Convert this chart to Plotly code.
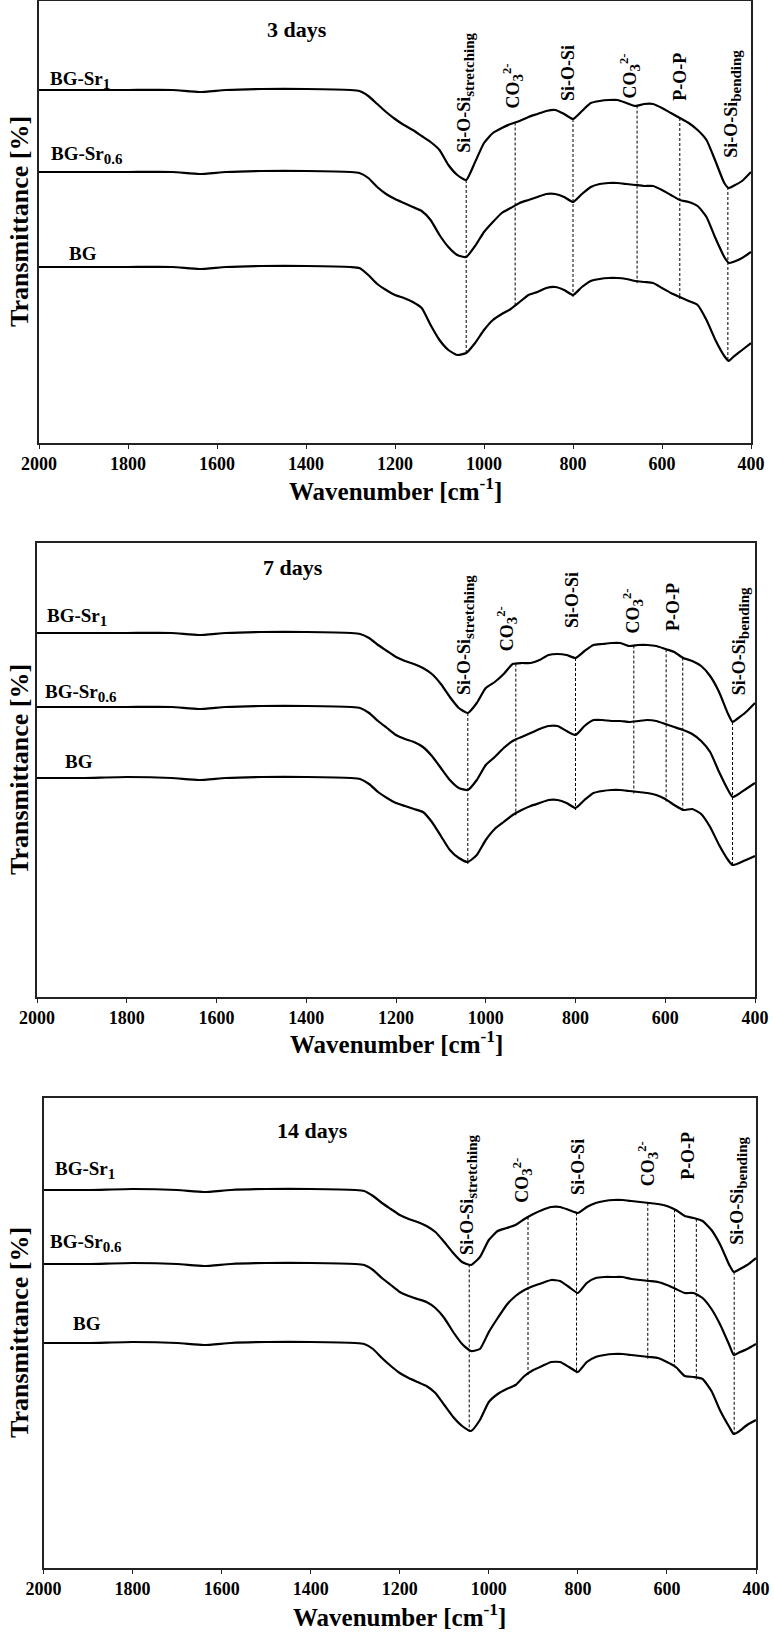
import numpy as np
import plotly.graph_objects as go

# wavenumber grid (cm-1), shared by all spectra
WN = [2000, 1900, 1800, 1700, 1640, 1580, 1500, 1400, 1300, 1280, 1260, 1240, 1220,
      1200, 1180, 1160, 1140, 1120, 1100, 1080, 1060, 1040, 1020, 1000, 980, 960,
      940, 920, 900, 880, 860, 840, 820, 800, 780, 760, 740, 720, 700, 680, 660,
      640, 620, 600, 580, 560, 540, 520, 500, 480, 460, 450, 440, 420, 400]

# transmittance (a.u., stacked) -- 3 days
D3_SR1 = [353, 353, 353, 353, 351, 353, 354, 354, 353, 352, 347, 339, 331, 324, 318,
          313, 307, 301, 293, 278, 268, 263, 281, 300, 310, 315, 319, 322, 326, 329,
          332, 333, 329, 324, 332, 340, 342, 343, 343, 340, 337, 339, 339, 335, 330,
          325, 320, 313, 303, 282, 260, 255, 257, 262, 271]
D3_SR06 = [271, 271, 271, 271, 269, 271, 272, 272, 271, 270, 265, 256, 249, 244, 240,
           236, 232, 223, 208, 196, 188, 186, 197, 211, 221, 230, 235, 240, 243, 246,
           249, 249, 246, 241, 249, 256, 259, 260, 260, 259, 258, 257, 257, 253, 248,
           243, 241, 237, 226, 205, 186, 180, 181, 185, 191]
D3_BG = [176, 176, 176, 176, 174, 176, 177, 177, 176, 175, 168, 159, 153, 148, 145,
         141, 135, 118, 103, 93, 88, 90, 100, 113, 123, 129, 134, 141, 148, 151,
         155, 156, 153, 148, 156, 162, 164, 165, 165, 164, 162, 161, 160, 155, 150,
         146, 142, 138, 123, 103, 87, 82, 86, 93, 100]

# 7 days
D7_SR1 = [364, 364, 364, 364, 362, 364, 365, 365, 364, 363, 359, 352, 346, 340, 336,
          333, 329, 323, 313, 300, 289, 284, 294, 309, 315, 323, 333, 334, 334, 337,
          342, 343, 342, 339, 346, 352, 353, 354, 354, 351, 352, 352, 351, 348, 345,
          339, 336, 331, 321, 305, 283, 275, 278, 285, 294]
D7_SR06 = [290, 290, 290, 290, 288, 290, 291, 291, 290, 289, 284, 276, 269, 262, 258,
           255, 250, 241, 229, 217, 209, 207, 217, 232, 240, 249, 256, 260, 264, 268,
           271, 271, 266, 262, 271, 277, 277, 276, 276, 275, 276, 277, 276, 273, 270,
           267, 263, 256, 245, 225, 207, 200, 202, 208, 214]
D7_BG = [219, 219, 220, 219, 217, 219, 220, 220, 219, 218, 213, 205, 199, 194, 191,
         188, 185, 175, 161, 147, 139, 135, 142, 157, 168, 175, 182, 187, 191, 194,
         197, 197, 194, 189, 197, 204, 206, 207, 207, 206, 205, 204, 202, 198, 192,
         187, 188, 183, 170, 152, 137, 132, 133, 137, 141]

# 14 days
D14_SR1 = [378, 378, 379, 378, 376, 378, 379, 379, 378, 377, 372, 365, 359, 353, 349,
           346, 342, 336, 326, 315, 306, 303, 311, 328, 337, 340, 343, 349, 354, 358,
           361, 361, 358, 355, 361, 365, 367, 368, 368, 367, 366, 365, 364, 362, 358,
           352, 350, 347, 338, 323, 303, 296, 298, 303, 310]
D14_SR06 = [304, 304, 305, 304, 302, 304, 305, 305, 304, 303, 298, 290, 283, 276, 272,
            269, 266, 260, 250, 236, 224, 217, 219, 236, 250, 263, 272, 278, 282, 285,
            288, 287, 281, 275, 285, 290, 291, 291, 291, 289, 288, 287, 286, 283, 279,
            275, 275, 270, 259, 243, 223, 213, 215, 219, 224]
D14_BG = [225, 225, 226, 225, 223, 225, 226, 226, 225, 224, 219, 210, 202, 195, 190,
          186, 182, 175, 163, 151, 142, 137, 148, 166, 174, 179, 183, 192, 198, 202,
          206, 206, 201, 196, 206, 211, 213, 214, 214, 213, 212, 211, 210, 206, 201,
          192, 191, 189, 177, 157, 141, 134, 136, 143, 148]

# subscripts in the source are nearly full size, so bump them up
SUB = "<sub><span style='font-size:15px'>{}</span></sub>"

SAMPLES = ["BG-Sr" + SUB.format("1"), "BG-Sr" + SUB.format("0.6"), "BG"]
TITLES = ["3 days", "7 days", "14 days"]
XTICKS = [2000, 1800, 1600, 1400, 1200, 1000, 800, 600, 400]

# band positions (cm-1) marked by dashed lines
D3_BANDS = [1040, 930, 800, 656, 560, 452]
D7_BANDS = [1040, 933, 800, 670, 598, 561, 450]
D14_BANDS = [1044, 912, 803, 643, 583, 534, 449]

STRETCH = "Si-O-Si" + SUB.format("stretching")
CO3 = "CO" + SUB.format("3") + "<sup>2-</sup>"
BEND = "Si-O-Si" + SUB.format("bending")
BAND_TEXT = [STRETCH, CO3, "Si-O-Si", CO3, "P-O-P", BEND]

# label anchor (wavenumber, transmittance) per panel
D3_LABEL_X = [1043, 935, 811, 672, 560, 443]
D3_LABEL_Y = [288, 333, 340, 343, 340, 283]
D7_LABEL_X = [1046, 953, 808, 672, 583, 433]
D7_LABEL_Y = [300, 344, 367, 362, 364, 300]
D14_LABEL_X = [1047, 925, 800, 643, 553, 441]
D14_LABEL_Y = [311, 363, 371, 380, 386, 321]

W, H = 774, 1632
FONT = "Liberation Serif"

panels = [
    dict(curves=[D3_SR1, D3_SR06, D3_BG], bands=D3_BANDS,
         lx=D3_LABEL_X, ly=D3_LABEL_Y, box=(39, 751, 1, 443), yr=442, xt=46,
         names=[(1980, 363), (1978, 288), (1937, 190)], title=(1420, 413)),
    dict(curves=[D7_SR1, D7_SR06, D7_BG], bands=D7_BANDS,
         lx=D7_LABEL_X, ly=D7_LABEL_Y, box=(37, 755, 543, 997), yr=454, xt=45,
         names=[(1982, 380), (1987, 304), (1942, 236)], title=(1430, 430)),
    dict(curves=[D14_SR1, D14_SR06, D14_BG], bands=D14_BANDS,
         lx=D14_LABEL_X, ly=D14_LABEL_Y, box=(43.5, 756, 1098, 1568), yr=470, xt=47,
         names=[(1979, 398), (1990, 325), (1938, 245)], title=(1395, 438)),
]

fig = go.Figure()
wn_up = np.array(WN[::-1], dtype=float)
annotations = []

for i, p in enumerate(panels):
    n = "" if i == 0 else str(i + 1)
    xa, ya = "x" + n, "y" + n
    top_c, bot_c = p["curves"][0], p["curves"][-1]

    # dashed band markers, from top spectrum down to the bottom one
    for b in p["bands"]:
        y0 = np.interp(b, wn_up, np.array(top_c[::-1], dtype=float))
        y1 = np.interp(b, wn_up, np.array(bot_c[::-1], dtype=float))
        fig.add_trace(go.Scatter(
            x=[b, b], y=[y0, y1 - 2], mode="lines", xaxis=xa, yaxis=ya,
            line=dict(color="black", width=1, dash="3px,2px"),
            showlegend=False, hoverinfo="skip"
        ))

    for c in p["curves"]:
        fig.add_trace(go.Scatter(
            x=WN, y=c, mode="lines", xaxis=xa, yaxis=ya,
            line=dict(color="black", width=2.2, shape="spline", smoothing=0.5),
            showlegend=False
        ))

    for (sx, sy), s in zip(p["names"], SAMPLES):
        annotations.append(dict(
            x=sx, y=sy, xref=xa, yref=ya, text=s, showarrow=False,
            xanchor="left", yanchor="middle",
            font=dict(family=FONT, size=19, color="black", weight="bold")
        ))

    annotations.append(dict(
        x=p["title"][0], y=p["title"][1], xref=xa, yref=ya, text=TITLES[i],
        showarrow=False, xanchor="center", yanchor="middle",
        font=dict(family=FONT, size=22, color="black", weight="bold")
    ))

    for tx, ty, t in zip(p["lx"], p["ly"], BAND_TEXT):
        annotations.append(dict(
            x=tx, y=ty, xref=xa, yref=ya, text=t, showarrow=False,
            textangle=-90, xanchor="center", yanchor="bottom",
            font=dict(family=FONT, size=18, color="black", weight="bold")
        ))

    annotations.append(dict(
        x=0.5, y=0, xref=xa + " domain", yref=ya + " domain",
        text="Wavenumber [cm<sup>-1</sup>]", showarrow=False,
        xanchor="center", yanchor="middle", yshift=-p["xt"],
        font=dict(family=FONT, size=25, color="black", weight="bold")
    ))
    annotations.append(dict(
        x=19 / W, y=0.5, xref="paper", yref=ya + " domain",
        text="Transmittance [%]", showarrow=False, textangle=-90,
        xanchor="center", yanchor="middle",
        font=dict(family=FONT, size=26, color="black", weight="bold")
    ))

    x0, x1, t0, t1 = p["box"]
    fig.layout["xaxis" + n] = dict(
        domain=[x0 / W, x1 / W], range=[2000, 400], anchor=ya, automargin=False,
        tickvals=XTICKS, ticks="outside", ticklen=4, tickwidth=1.2,
        tickcolor="#222", showline=True, linecolor="#222", linewidth=1.5,
        mirror=True, showgrid=False, zeroline=False,
        tickfont=dict(family=FONT, size=18, color="black", weight="bold")
    )
    fig.layout["yaxis" + n] = dict(
        domain=[1 - t1 / H, 1 - t0 / H], range=[0, p["yr"]], anchor=xa,
        automargin=False, showticklabels=False, ticks="", showline=True,
        linecolor="#222", linewidth=1.5, mirror=True, showgrid=False,
        zeroline=False
    )

fig.update_layout(
    width=W, height=H,
    margin=dict(l=0, r=0, t=0, b=0, pad=0),
    plot_bgcolor="white", paper_bgcolor="white",
    font=dict(family=FONT, color="black"),
    annotations=annotations,
    showlegend=False
)

# the page body has a default 8px margin; drop it so the figure sits at 0,0
fig.write_html("out.html", config={"displayModeBar": False},
               post_script="document.body.style.margin='0px';")
